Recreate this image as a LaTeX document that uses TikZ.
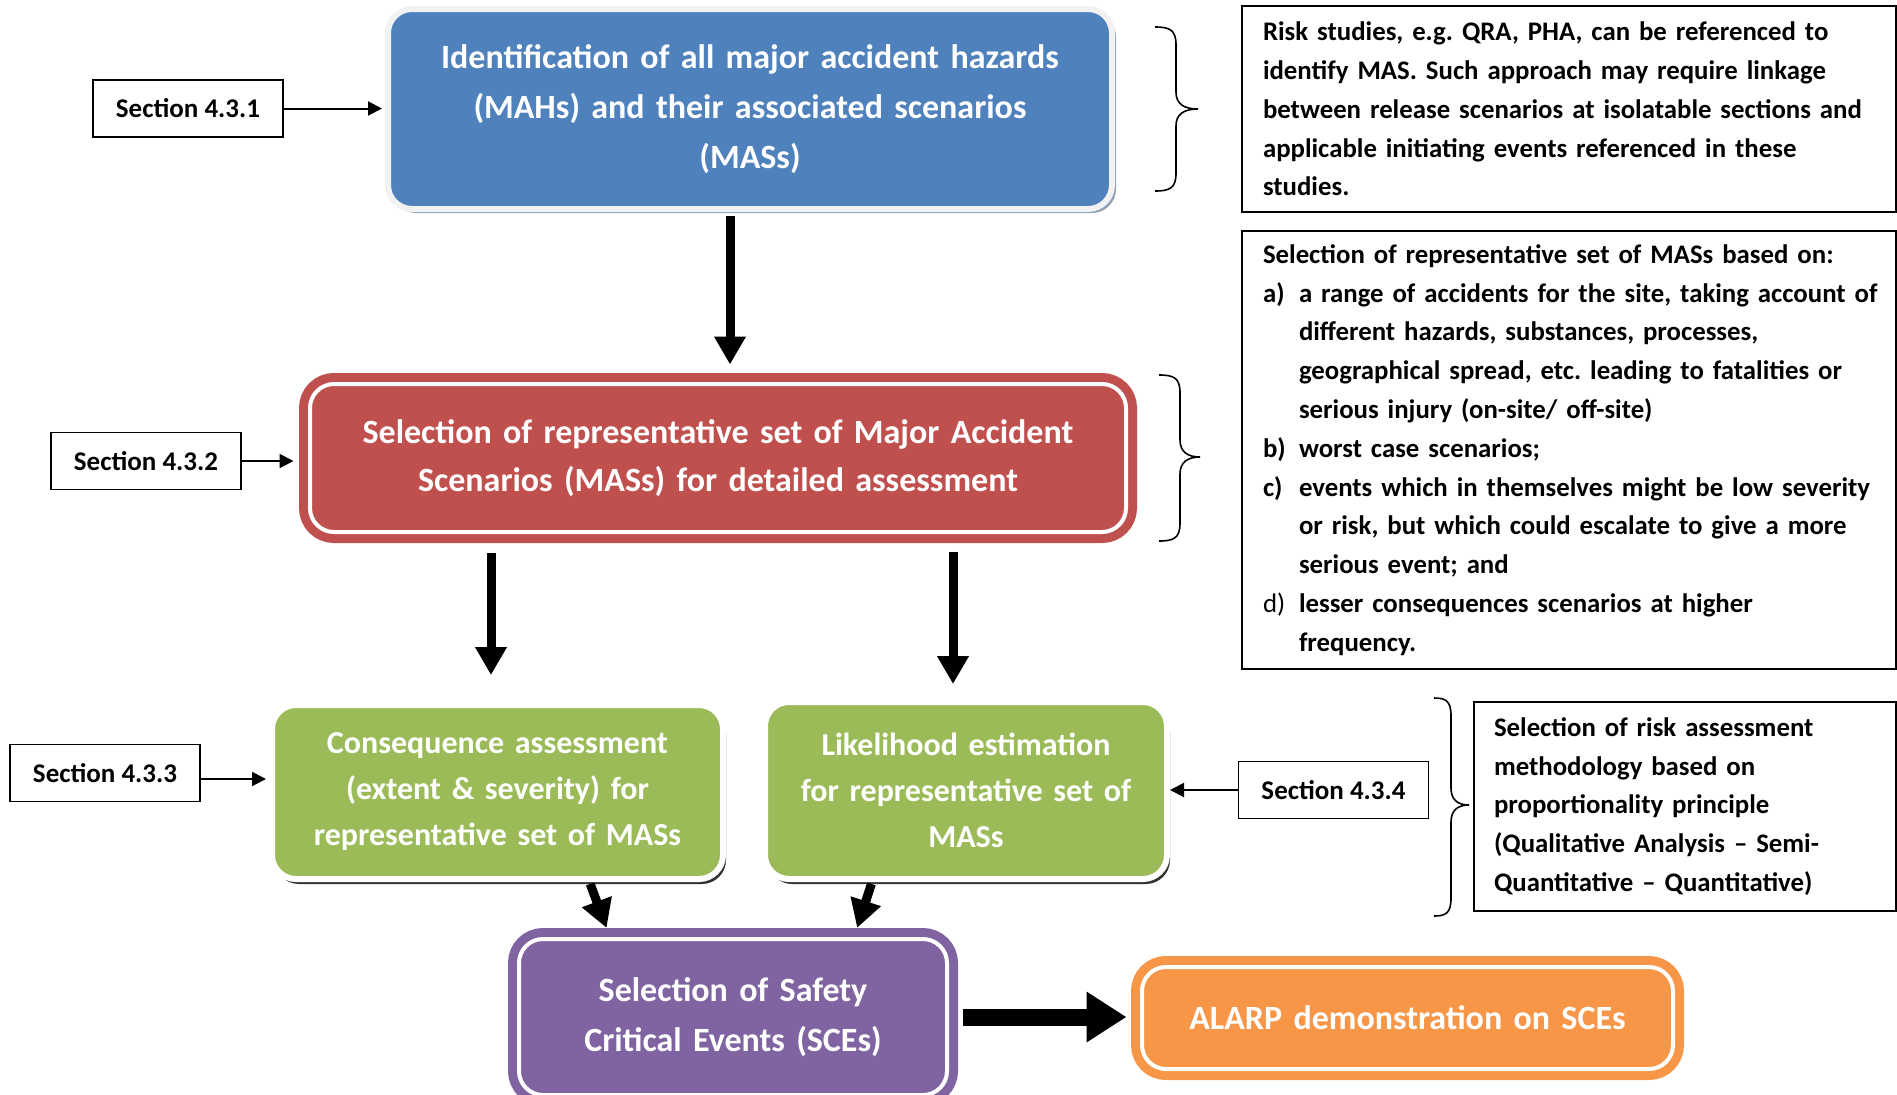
\documentclass[tikz,border=0pt]{standalone}
\usepackage{fontspec}
\setmainfont{Carlito}
\usetikzlibrary{arrows.meta,shadows}
\definecolor{cblue}{HTML}{4F81BD}
\definecolor{cred}{HTML}{C0504D}
\definecolor{cgreen}{HTML}{9BBB59}
\definecolor{cpurple}{HTML}{8064A2}
\definecolor{corange}{HTML}{F79646}
\definecolor{cshadow}{HTML}{8FA0B6}
\definecolor{cborder}{HTML}{F2F2F2}
\newcommand{\mainsize}[2]{\fontsize{#1}{#2}\selectfont\bfseries}
\newcommand{\lbl}[1]{\makebox[18pt][l]{#1}}
\frenchspacing
\hbadness=10000 \hfuzz=50pt
\tikzset{
  mainbox/.style={rounded corners=12pt, text=white, align=center, inner sep=0pt},
  dblbox/.style={mainbox, double=white, double distance=2pt, line width=4.5pt},
  secbox/.style={draw, line width=0.8pt, minimum width=95pt, minimum height=28.5pt, inner sep=0pt, font=\fontsize{13.5}{16}\selectfont\bfseries},
  notebox/.style={draw, line width=0.8pt, inner sep=0pt, align=left, font=\fontsize{13.4}{19.4}\selectfont\bfseries},
  thin/.style={line width=1pt, -{Triangle[width=7pt,length=7pt]}},
  thick/.style={line width=4.5pt, -{Triangle[width=15pt,length=14pt]}},
  brc/.style={line width=0.8pt}
}
\begin{document}
\begin{tikzpicture}[x=0.5pt,y=-0.5pt]
\useasboundingbox (0,0) rectangle (1897,1094);
\begin{scope}
\clip (0,0) rectangle (1897,1094);
% main boxes
\node[mainbox, fill=cblue, draw=cborder, line width=3pt,
  drop shadow={shadow xshift=2pt, shadow yshift=-2pt, fill=cshadow, opacity=1},
  minimum width=362pt, minimum height=100pt, text width=350pt, font=\mainsize{17}{25}]
  (blue) at (750,109) {Identification of all major accident hazards\\(MAHs) and their associated scenarios\\(MASs)};
\node[dblbox, fill=cred, draw=cred, minimum width=408pt, minimum height=74pt, text width=395pt, font=\mainsize{17}{24}]
  (red) at (718,458) {Selection of representative set of Major Accident\\Scenarios (MASs) for detailed assessment};
\node[mainbox, fill=cgreen, draw=white, line width=3pt,
  drop shadow={shadow xshift=1.5pt, shadow yshift=-2.5pt, fill=black!80, opacity=1},
  minimum width=225.5pt, minimum height=87pt, text width=220pt, font=\mainsize{16}{23}]
  (g1) at (497.5,792) {Consequence assessment\\(extent \& severity) for\\representative set of MASs};
\node[mainbox, fill=cgreen, draw=white, line width=3pt,
  drop shadow={shadow xshift=1.5pt, shadow yshift=-2.5pt, fill=black!80, opacity=1},
  minimum width=201pt, minimum height=88.5pt, text width=196pt, font=\mainsize{16}{23}]
  (g2) at (966,790.5) {Likelihood estimation\\for representative set of\\MASs};
\node[dblbox, fill=cpurple, draw=cpurple, minimum width=214pt, minimum height=78pt, text width=205pt, font=\mainsize{17}{25}]
  (purple) at (733,1017) {Selection of Safety\\Critical Events (SCEs)};
\node[dblbox, fill=corange, draw=corange, minimum width=265.5pt, minimum height=51pt, text width=255pt, font=\mainsize{17}{25}]
  (orange) at (1407.5,1018) {ALARP demonstration on SCEs};
% section boxes
\node[secbox] (s1) at (188,108.5) {Section 4.3.1};
\node[secbox] (s2) at (146,461) {Section 4.3.2};
\node[secbox] (s3) at (105,773) {Section 4.3.3};
\node[secbox] (s4) at (1333.5,790) {Section 4.3.4};
% note boxes
\node[notebox, minimum width=327pt, minimum height=103pt, text width=306pt] (n1) at (1569,109)
 {Risk studies, e.g. QRA, PHA, can be referenced to\\identify MAS. Such approach may require linkage\\\mbox{between release scenarios at isolatable sections and}\\applicable initiating events referenced in these\\studies.};
\node[notebox, minimum width=327pt, minimum height=219pt, text width=306pt] (n2) at (1569,450)
 {Selection of representative set of MASs based on:\\
 \mbox{\lbl{a)}a range of accidents for the site, taking account of}\\
 \lbl{}different hazards, substances, processes,\\
 \lbl{}geographical spread, etc. leading to fatalities or\\
 \lbl{}serious injury (on-site/ off-site)\\
 \lbl{b)}worst case scenarios;\\
 \mbox{\lbl{c)}events which in themselves might be low severity}\\
 \lbl{}or risk, but which could escalate to give a more\\
 \lbl{}serious event; and\\
 \lbl{\mdseries d)}lesser consequences scenarios at higher\\
 \lbl{}frequency.};
\node[notebox, minimum width=211pt, minimum height=104.5pt, text width=191pt] (n3) at (1685,806.5)
 {Selection of risk assessment\\methodology based on\\proportionality principle\\(Qualitative Analysis -- Semi-\\Quantitative -- Quantitative)};
% thin arrows
\draw[thin, shorten >=1.5pt] (s1.east) -- (s1.east -| blue.west);
\draw[thin, shorten >=6pt] (s2.east) -- (s2.east -| red.west);
\draw[thin, shorten >=1.5pt] ([yshift=-3pt]s3.east) -- ([yshift=-3pt]s3.east -| g1.west);
\draw[thin] (s4.west) -- (s4.west -| g2.east);
% thick arrows
\draw[thick, shorten <=2pt, shorten >=7.5pt] ([xshift=-10pt]blue.south) -- ([xshift=-10pt]blue.south |- red.north);
\draw[thick, shorten <=8pt, shorten >=13.5pt] ([xshift=-113.5pt]red.south) -- ([xshift=-113.5pt]red.south |- g1.north);
\draw[thick, shorten <=7.5pt, shorten >=7.5pt] ([xshift=117.5pt]red.south) -- ([xshift=117.5pt]red.south |- g2.north);
\draw[thick, shorten <=1pt, shorten >=3.5pt] ([xshift=46pt]g1.south) -- ([xshift=-62pt]purple.north);
\draw[thick, shorten <=1pt, shorten >=3.5pt] ([xshift=-47pt]g2.south) -- ([xshift=61pt]purple.north);
\draw[line width=8.5pt, -{Triangle[width=24pt,length=20pt]}, shorten <=5.5pt, shorten >=5.5pt] (purple.east) -- (purple.east -| orange.west);
% braces
\draw[brc] (1155,27) .. controls (1170,27) and (1176,30) .. (1176,45) -- (1176,92) .. controls (1176,104) and (1184,109) .. (1198,109)
  .. controls (1184,109) and (1176,114) .. (1176,126) -- (1176,173) .. controls (1176,188) and (1170,191) .. (1155,191);
\draw[brc] (1159,375) .. controls (1174,375) and (1180,378) .. (1180,393) -- (1180,440) .. controls (1180,452) and (1188,457) .. (1200,457)
  .. controls (1188,457) and (1180,462) .. (1180,474) -- (1180,523) .. controls (1180,538) and (1174,541) .. (1159,541);
\draw[brc] (1434,698) .. controls (1446,698) and (1451,701) .. (1451,716) -- (1451,788) .. controls (1451,800) and (1458,805) .. (1469,805)
  .. controls (1458,805) and (1451,810) .. (1451,822) -- (1451,898) .. controls (1451,913) and (1446,916) .. (1434,916);
\end{scope}
\end{tikzpicture}
\end{document}
